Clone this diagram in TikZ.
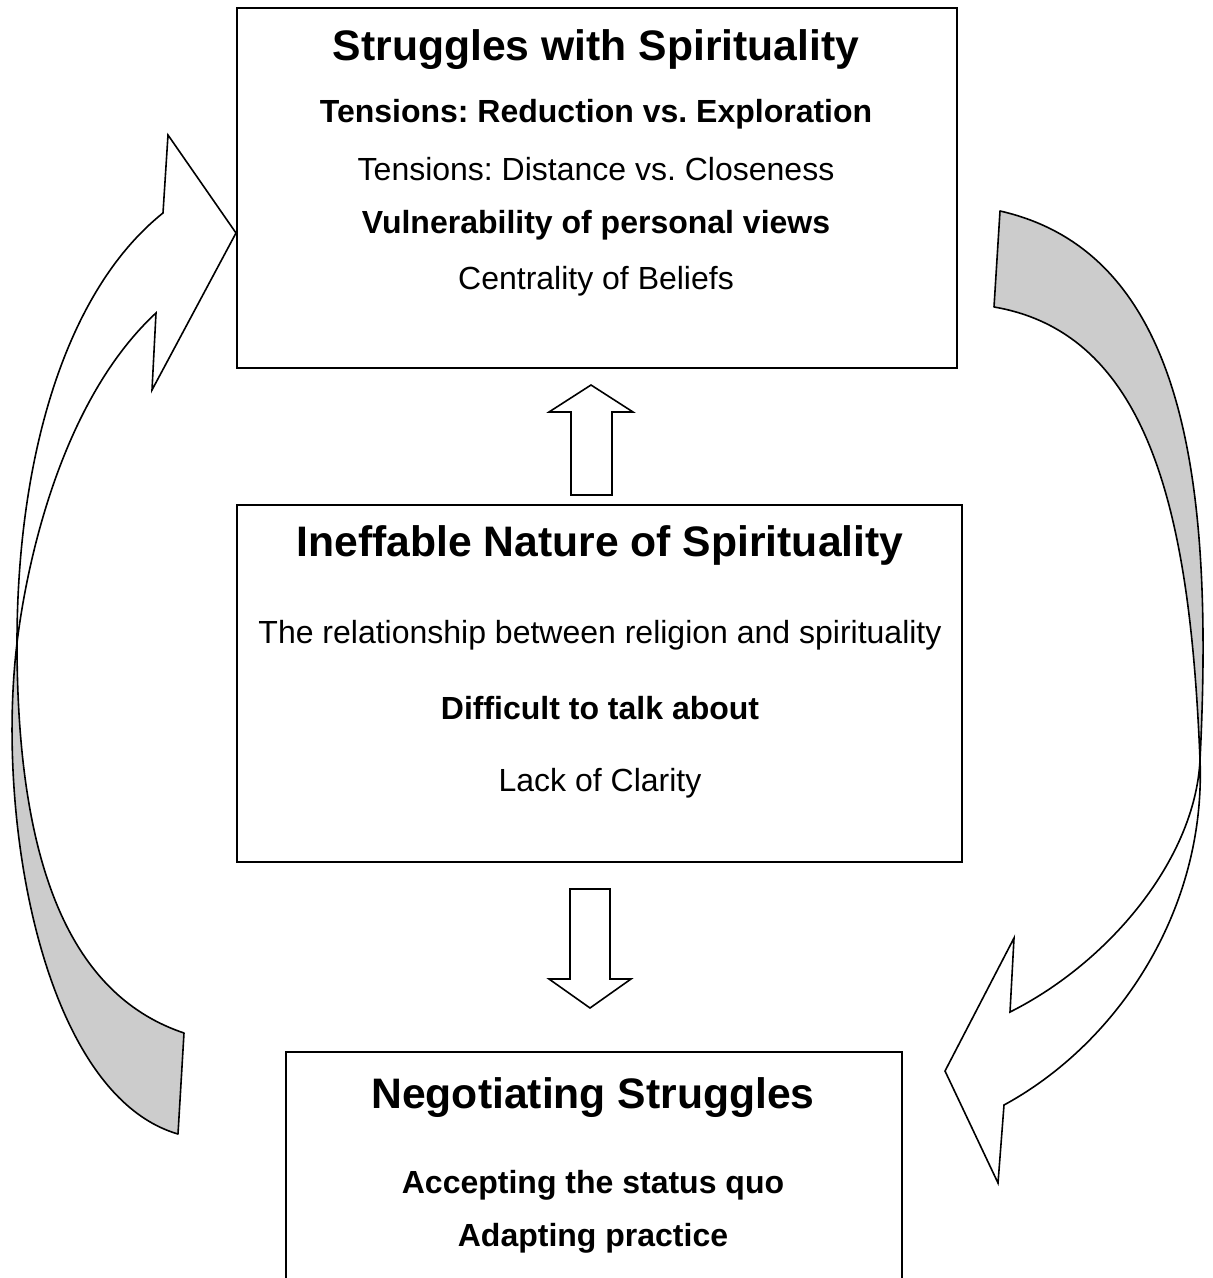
\documentclass[tikz,border=0pt]{standalone}
\usepackage{fontspec}
\setmainfont{Liberation Sans}
\definecolor{backgray}{RGB}{204,204,204}
\usetikzlibrary{positioning}

\begin{document}
\frenchspacing
\begin{tikzpicture}[
  x=0.5pt, y=-0.5pt,
  every node/.style={font=\fontsize{16}{19}\selectfont},
  themebox/.style={draw,line width=1pt,inner sep=0pt},
  themetitle/.style={font=\fontsize{21.33}{25}\selectfont\bfseries},
  subtheme/.style={font=\fontsize{16}{19}\selectfont\bfseries},
  blockarrow/.style={draw,line width=0.8pt,fill=white,line join=miter},
  twistback/.style={draw,line width=0.8pt,fill=backgray,line join=round},
  twistfront/.style={draw,line width=0.8pt,fill=white,line join=miter},
]
  \useasboundingbox (0,0) rectangle (1213,1278);

  % Boxes
  \node[themebox,minimum width=360pt,minimum height=180pt] (struggles) at (597,188) {};
  \node[themebox,minimum width=362.5pt,minimum height=178.5pt] (ineffable) at (599.5,683.5) {};
  \node[themebox,minimum width=308pt,minimum height=130pt] (negotiating) at (594,1182) {};

  % Struggles with Spirituality
  \node[themetitle] (strugglestitle) at (596,50) {Struggles with Spirituality};
  \node[subtheme] (reduction) at (596,114) {Tensions: Reduction vs. Exploration};
  \node (distance) at (596,169) {Tensions: Distance vs. Closeness};
  \node[subtheme] (vulnerability) at (596,225) {Vulnerability of personal views};
  \node (centrality) at (596,281) {Centrality of Beliefs};

  % Ineffable Nature of Spirituality
  \node[themetitle] (ineffabletitle) at (600,545) {Ineffable Nature of Spirituality};
  \node (relationship) at (600,635) {The relationship between religion and spirituality};
  \node[subtheme] (difficult) at (600,708) {Difficult to talk about};
  \node (clarity) at (600,783) {Lack of Clarity};

  % Negotiating Struggles
  \node[themetitle] (negotiatingtitle) at (593,1098) {Negotiating Struggles};
  \node[subtheme] (accepting) at (593,1185) {Accepting the status quo};
  \node[subtheme] (adapting) at (593,1238) {Adapting practice};

  % Straight block arrows
  \draw[blockarrow] (571,495) -- (571,412) -- (549,412) -- (591,385) -- (633,412)
    -- (612,412) -- (612,495) -- cycle;
  \draw[blockarrow] (570,889) -- (610,889) -- (610,979) -- (631,979) -- (590,1008)
    -- (549,979) -- (570,979) -- cycle;

  % Left curved arrow (back then front)
  \draw[twistback] (17,643) .. controls (17,883) and (79.5,998) .. (184,1033)
    -- (178,1134) .. controls (43.6,1095) and (-4.6,822) .. (17,643) -- cycle;
  \draw[twistfront] (17,643) .. controls (17,463) and (63,293) .. (163,213)
    -- (168,135) -- (236,233) -- (152,390) -- (156,313)
    .. controls (61,401) and (26.6,563.6) .. (17,643) -- cycle;

  % Right curved arrow (back then front)
  \draw[twistback] (1000,211) .. controls (1185,253) and (1214,480) .. (1200,760)
    .. controls (1190.4,520) and (1152,334) .. (994,307) -- cycle;
  \draw[twistfront] (1200,760) .. controls (1195,860) and (1108,963) .. (1010,1012)
    -- (1014,938) -- (945,1071) -- (998,1183) -- (1004,1105)
    .. controls (1118,1043) and (1206,910) .. (1200,760) -- cycle;
\end{tikzpicture}
\end{document}
